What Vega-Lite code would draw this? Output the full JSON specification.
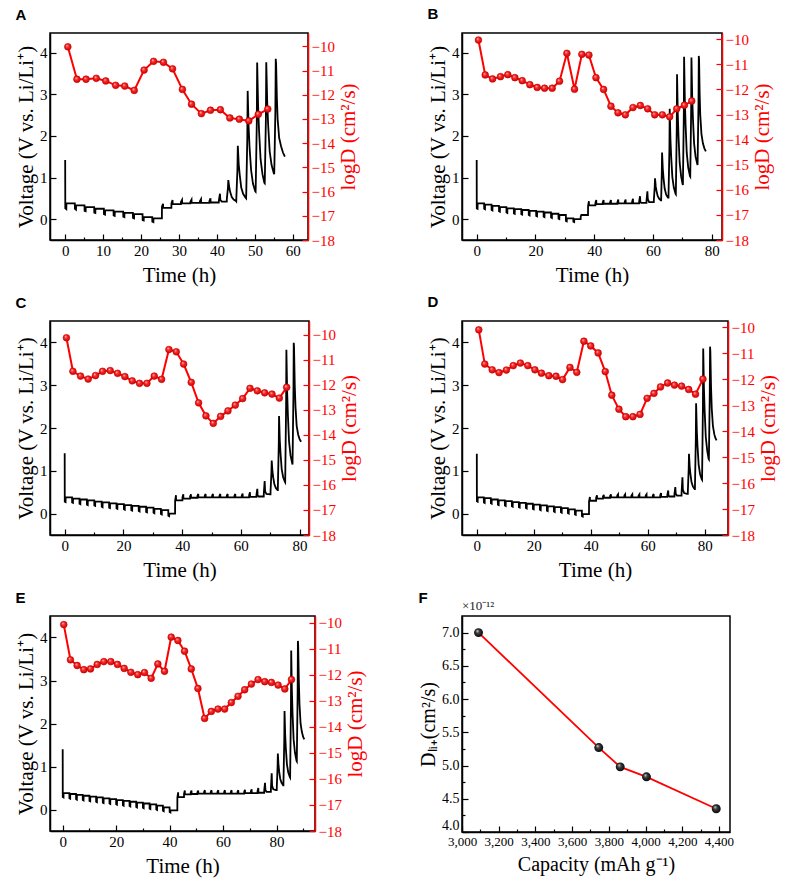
{
"$schema":"https://vega.github.io/schema/vega-lite/v6.json",
"background":"white",
"padding":{"left":14,"top":6,"right":5,"bottom":2},
"config":{
 "view":{"stroke":"black","strokeWidth":1.5},
 "axis":{"grid":false,"labelFont":"Liberation Serif","titleFont":"Liberation Serif","labelFontSize":15,"titleFontSize":21,"titleFontWeight":"normal","labelColor":"black","titleColor":"black","domainColor":"black","domainWidth":1.5,"tickColor":"black","tickWidth":1.2,"labelPadding":9,"titlePadding":3,"labelOverlap":false,"labelFlush":false},
 "title":{"font":"Liberation Sans","fontSize":15,"fontWeight":"bold","anchor":"start","frame":"bounds","offset":10,"color":"black"}
},
"datasets":{
"vA":[{"t":0,"v":1.42},{"t":0.03,"v":0.26},{"t":0.3,"v":0.24},{"t":0.33,"v":0.38},
{"t":2.54,"v":0.38},{"t":2.57,"v":0.25},{"t":2.85,"v":0.23},{"t":2.88,"v":0.33},
{"t":5.09,"v":0.33},{"t":5.12,"v":0.2},{"t":5.4,"v":0.19},{"t":5.43,"v":0.29},
{"t":7.64,"v":0.29},{"t":7.67,"v":0.16},{"t":7.95,"v":0.15},{"t":7.98,"v":0.25},
{"t":10.19,"v":0.25},{"t":10.22,"v":0.12},{"t":10.5,"v":0.11},{"t":10.53,"v":0.21},
{"t":12.74,"v":0.21},{"t":12.77,"v":0.09},{"t":13.05,"v":0.08},{"t":13.08,"v":0.18},
{"t":15.29,"v":0.18},{"t":15.32,"v":0.06},{"t":15.6,"v":0.05},{"t":15.63,"v":0.15},
{"t":17.84,"v":0.15},{"t":17.87,"v":0.03},{"t":18.15,"v":0.02},{"t":18.18,"v":0.12},
{"t":20.39,"v":0.12},{"t":20.42,"v":-0.02},{"t":20.7,"v":-0.03},{"t":20.73,"v":0.05},
{"t":22.94,"v":0.05},{"t":22.97,"v":-0.06},{"t":23.25,"v":-0.07},{"t":23.28,"v":0.02},
{"t":25.49,"v":0.02},{"t":25.51,"v":0.3},{"t":25.8,"v":0.37},{"t":25.83,"v":0.27},
{"t":27.99,"v":0.27},{"t":28.01,"v":0.38},{"t":28.3,"v":0.46},{"t":28.33,"v":0.36},
{"t":30.49,"v":0.36},{"t":30.51,"v":0.41},{"t":30.8,"v":0.46},{"t":30.83,"v":0.38},
{"t":32.99,"v":0.38},{"t":33.01,"v":0.42},{"t":33.3,"v":0.47},{"t":33.33,"v":0.39},
{"t":35.49,"v":0.39},{"t":35.51,"v":0.43},{"t":35.8,"v":0.48},{"t":35.83,"v":0.39},
{"t":37.99,"v":0.39},{"t":38.01,"v":0.43},{"t":38.3,"v":0.5},{"t":38.33,"v":0.4},
{"t":40.49,"v":0.4},{"t":40.51,"v":0.45},{"t":40.8,"v":0.61},{"t":40.9,"v":0.46},{"t":41.3,"v":0.42},
{"t":42.59,"v":0.42},{"t":42.62,"v":0.5},{"t":42.9,"v":0.75},{"t":43.0,"v":0.94},{"t":43.25,"v":0.76},{"t":43.5,"v":0.65},{"t":43.9,"v":0.53},{"t":44.4,"v":0.47},{"t":45.0,"v":0.44},
{"t":45.09,"v":0.43},{"t":45.12,"v":0.53},{"t":45.4,"v":1.2},{"t":45.5,"v":1.76},{"t":45.75,"v":1.31},{"t":46.0,"v":1.07},{"t":46.4,"v":0.76},{"t":46.9,"v":0.61},{"t":47.5,"v":0.52},
{"t":47.69,"v":0.5},{"t":47.72,"v":0.6},{"t":48.0,"v":1.95},{"t":48.1,"v":3.08},{"t":48.35,"v":2.21},{"t":48.6,"v":1.72},{"t":49.0,"v":1.18},{"t":49.5,"v":0.85},{"t":50.1,"v":0.67},
{"t":50.19,"v":0.66},{"t":50.22,"v":0.76},{"t":50.5,"v":2.3},{"t":50.6,"v":3.76},{"t":50.85,"v":2.72},{"t":51.1,"v":2.12},{"t":51.5,"v":1.44},{"t":52.0,"v":1.08},{"t":52.5,"v":0.87},
{"t":52.59,"v":0.86},{"t":52.62,"v":0.96},{"t":52.9,"v":2.4},{"t":53.0,"v":3.77},{"t":53.25,"v":2.81},{"t":53.5,"v":2.26},{"t":53.9,"v":1.63},{"t":54.4,"v":1.3},{"t":55.0,"v":1.1},
{"t":55.09,"v":1.08},{"t":55.12,"v":1.18},{"t":55.4,"v":2.6},{"t":55.5,"v":3.85},{"t":55.6,"v":3.72},{"t":55.8,"v":2.9},{"t":56.0,"v":2.4},{"t":56.4,"v":1.95},{"t":56.9,"v":1.75},{"t":57.4,"v":1.6},{"t":57.9,"v":1.5}],
"dA":[{"t":0.7,"d":-10.02},{"t":3.1,"d":-11.36},{"t":5.5,"d":-11.36},{"t":8.2,"d":-11.32},{"t":10.7,"d":-11.43},{"t":13.3,"d":-11.61},{"t":15.7,"d":-11.64},{"t":18.2,"d":-11.82},{"t":20.8,"d":-10.98},{"t":23.3,"d":-10.62},{"t":25.9,"d":-10.66},{"t":28.3,"d":-10.93},{"t":30.9,"d":-11.78},{"t":33.3,"d":-12.39},{"t":35.9,"d":-12.78},{"t":38.3,"d":-12.64},{"t":40.9,"d":-12.62},{"t":43.4,"d":-12.96},{"t":45.9,"d":-13.01},{"t":48.4,"d":-13.08},{"t":50.9,"d":-12.81},{"t":53.4,"d":-12.59}],
"vB":[{"t":0,"v":1.42},{"t":0.03,"v":0.26},{"t":0.3,"v":0.25},{"t":0.33,"v":0.38},
{"t":2.52,"v":0.38},{"t":2.55,"v":0.25},{"t":2.83,"v":0.24},{"t":2.86,"v":0.35},
{"t":5.05,"v":0.35},{"t":5.08,"v":0.22},{"t":5.36,"v":0.21},{"t":5.39,"v":0.32},
{"t":7.58,"v":0.32},{"t":7.61,"v":0.19},{"t":7.89,"v":0.18},{"t":7.92,"v":0.29},
{"t":10.11,"v":0.29},{"t":10.14,"v":0.16},{"t":10.42,"v":0.15},{"t":10.45,"v":0.26},
{"t":12.64,"v":0.26},{"t":12.67,"v":0.14},{"t":12.95,"v":0.13},{"t":12.98,"v":0.24},
{"t":15.17,"v":0.24},{"t":15.2,"v":0.12},{"t":15.48,"v":0.11},{"t":15.51,"v":0.22},
{"t":17.7,"v":0.22},{"t":17.73,"v":0.1},{"t":18.01,"v":0.09},{"t":18.04,"v":0.2},
{"t":20.23,"v":0.2},{"t":20.26,"v":0.08},{"t":20.54,"v":0.07},{"t":20.57,"v":0.18},
{"t":22.76,"v":0.18},{"t":22.79,"v":0.06},{"t":23.07,"v":0.05},{"t":23.1,"v":0.16},
{"t":25.29,"v":0.16},{"t":25.32,"v":0.04},{"t":25.6,"v":0.03},{"t":25.63,"v":0.13},
{"t":27.82,"v":0.13},{"t":27.85,"v":0.01},{"t":28.13,"v":0.0},{"t":28.16,"v":0.1},
{"t":30.35,"v":0.1},{"t":30.38,"v":-0.04},{"t":30.66,"v":-0.05},{"t":30.69,"v":0.02},
{"t":32.88,"v":0.02},{"t":32.91,"v":-0.06},{"t":33.19,"v":-0.07},{"t":33.22,"v":0.0},
{"t":35.39,"v":0.0},{"t":35.41,"v":0.06},{"t":35.7,"v":0.12},{"t":35.73,"v":0.1},
{"t":37.89,"v":0.1},{"t":37.91,"v":0.32},{"t":38.2,"v":0.43},{"t":38.23,"v":0.33},
{"t":40.39,"v":0.33},{"t":40.41,"v":0.39},{"t":40.7,"v":0.46},{"t":40.73,"v":0.36},
{"t":42.89,"v":0.36},{"t":42.91,"v":0.4},{"t":43.2,"v":0.46},{"t":43.23,"v":0.37},
{"t":45.39,"v":0.37},{"t":45.41,"v":0.41},{"t":45.7,"v":0.46},{"t":45.73,"v":0.37},
{"t":47.89,"v":0.37},{"t":47.91,"v":0.41},{"t":48.2,"v":0.47},{"t":48.23,"v":0.38},
{"t":50.39,"v":0.38},{"t":50.41,"v":0.42},{"t":50.7,"v":0.47},{"t":50.73,"v":0.38},
{"t":52.89,"v":0.38},{"t":52.91,"v":0.42},{"t":53.2,"v":0.49},{"t":53.23,"v":0.38},
{"t":55.29,"v":0.38},{"t":55.31,"v":0.43},{"t":55.6,"v":0.55},{"t":55.7,"v":0.42},{"t":56.0,"v":0.39},
{"t":57.79,"v":0.39},{"t":57.81,"v":0.45},{"t":58.1,"v":0.67},{"t":58.25,"v":0.48},{"t":58.7,"v":0.41},
{"t":60.29,"v":0.41},{"t":60.31,"v":0.47},{"t":60.6,"v":0.78},{"t":60.7,"v":0.98},{"t":60.95,"v":0.78},{"t":61.2,"v":0.68},{"t":61.6,"v":0.56},{"t":62.1,"v":0.49},{"t":62.7,"v":0.45},
{"t":62.79,"v":0.45},{"t":62.81,"v":0.53},{"t":63.0,"v":1.1},{"t":63.1,"v":1.6},{"t":63.35,"v":1.21},{"t":63.6,"v":0.98},{"t":64.0,"v":0.73},{"t":64.5,"v":0.59},{"t":65.1,"v":0.52},
{"t":65.29,"v":0.52},{"t":65.31,"v":0.62},{"t":65.6,"v":1.7},{"t":65.7,"v":2.65},{"t":65.95,"v":1.92},{"t":66.2,"v":1.5},{"t":66.6,"v":1.01},{"t":67.1,"v":0.76},{"t":67.7,"v":0.61},
{"t":67.79,"v":0.6},{"t":67.81,"v":0.7},{"t":68.1,"v":2.2},{"t":68.2,"v":3.48},{"t":68.45,"v":2.52},{"t":68.7,"v":1.98},{"t":69.1,"v":1.35},{"t":69.6,"v":1.02},{"t":70.1,"v":0.84},
{"t":70.19,"v":0.82},{"t":70.21,"v":0.92},{"t":70.5,"v":2.5},{"t":70.6,"v":3.9},{"t":70.85,"v":2.86},{"t":71.1,"v":2.27},{"t":71.5,"v":1.59},{"t":72.0,"v":1.24},{"t":72.6,"v":1.03},
{"t":72.69,"v":1.02},{"t":72.71,"v":1.12},{"t":73.0,"v":2.6},{"t":73.1,"v":3.88},{"t":73.35,"v":2.96},{"t":73.6,"v":2.43},{"t":74.0,"v":1.82},{"t":74.5,"v":1.5},{"t":75.1,"v":1.32},
{"t":75.19,"v":1.3},{"t":75.21,"v":1.4},{"t":75.5,"v":2.8},{"t":75.6,"v":3.92},{"t":75.7,"v":3.84},{"t":75.9,"v":3.0},{"t":76.1,"v":2.5},{"t":76.5,"v":2.05},{"t":77.0,"v":1.82},{"t":77.5,"v":1.7},{"t":78.0,"v":1.63}],
"dB":[{"t":0.6,"d":-10.03},{"t":2.9,"d":-11.42},{"t":5.4,"d":-11.58},{"t":8.1,"d":-11.49},{"t":10.6,"d":-11.41},{"t":13.0,"d":-11.53},{"t":15.5,"d":-11.65},{"t":18.1,"d":-11.81},{"t":20.6,"d":-11.92},{"t":23.1,"d":-11.95},{"t":25.7,"d":-11.95},{"t":28.2,"d":-11.67},{"t":30.7,"d":-10.56},{"t":33.3,"d":-11.99},{"t":35.8,"d":-10.6},{"t":38.2,"d":-10.63},{"t":40.6,"d":-11.53},{"t":43.2,"d":-12.0},{"t":45.7,"d":-12.67},{"t":48.1,"d":-12.93},{"t":50.6,"d":-13.01},{"t":53.2,"d":-12.72},{"t":55.7,"d":-12.64},{"t":58.2,"d":-12.77},{"t":60.6,"d":-13.01},{"t":63.2,"d":-13.01},{"t":65.7,"d":-13.09},{"t":68.1,"d":-12.77},{"t":70.7,"d":-12.63},{"t":73.2,"d":-12.46}],
"vC":[{"t":0,"v":1.41},{"t":0.03,"v":0.28},{"t":0.3,"v":0.27},{"t":0.33,"v":0.38},
{"t":2.51,"v":0.38},{"t":2.54,"v":0.26},{"t":2.82,"v":0.25},{"t":2.85,"v":0.35},
{"t":5.03,"v":0.35},{"t":5.06,"v":0.23},{"t":5.34,"v":0.22},{"t":5.37,"v":0.33},
{"t":7.55,"v":0.33},{"t":7.58,"v":0.21},{"t":7.86,"v":0.2},{"t":7.89,"v":0.31},
{"t":10.07,"v":0.31},{"t":10.1,"v":0.19},{"t":10.38,"v":0.18},{"t":10.41,"v":0.28},
{"t":12.59,"v":0.28},{"t":12.62,"v":0.16},{"t":12.9,"v":0.15},{"t":12.93,"v":0.26},
{"t":15.11,"v":0.26},{"t":15.14,"v":0.14},{"t":15.42,"v":0.13},{"t":15.45,"v":0.24},
{"t":17.63,"v":0.24},{"t":17.66,"v":0.12},{"t":17.94,"v":0.11},{"t":17.97,"v":0.22},
{"t":20.15,"v":0.22},{"t":20.18,"v":0.1},{"t":20.46,"v":0.09},{"t":20.49,"v":0.2},
{"t":22.67,"v":0.2},{"t":22.7,"v":0.08},{"t":22.98,"v":0.07},{"t":23.01,"v":0.18},
{"t":25.19,"v":0.18},{"t":25.22,"v":0.06},{"t":25.5,"v":0.05},{"t":25.53,"v":0.16},
{"t":27.71,"v":0.16},{"t":27.74,"v":0.04},{"t":28.02,"v":0.03},{"t":28.05,"v":0.14},
{"t":30.23,"v":0.14},{"t":30.26,"v":0.02},{"t":30.54,"v":0.01},{"t":30.57,"v":0.11},
{"t":32.75,"v":0.11},{"t":32.78,"v":-0.01},{"t":33.06,"v":-0.02},{"t":33.09,"v":0.08},
{"t":35.27,"v":0.08},{"t":35.3,"v":-0.05},{"t":35.58,"v":-0.06},{"t":35.61,"v":0.0},
{"t":37.59,"v":0.0},{"t":37.61,"v":0.3},{"t":37.9,"v":0.43},{"t":37.93,"v":0.31},
{"t":40.09,"v":0.31},{"t":40.11,"v":0.38},{"t":40.4,"v":0.45},{"t":40.43,"v":0.35},
{"t":42.69,"v":0.35},{"t":42.71,"v":0.4},{"t":43.0,"v":0.45},{"t":43.03,"v":0.37},
{"t":45.19,"v":0.37},{"t":45.21,"v":0.41},{"t":45.5,"v":0.46},{"t":45.53,"v":0.38},
{"t":47.69,"v":0.38},{"t":47.71,"v":0.42},{"t":48.0,"v":0.46},{"t":48.03,"v":0.38},
{"t":50.19,"v":0.38},{"t":50.21,"v":0.42},{"t":50.5,"v":0.46},{"t":50.53,"v":0.38},
{"t":52.69,"v":0.38},{"t":52.71,"v":0.42},{"t":53.0,"v":0.46},{"t":53.03,"v":0.38},
{"t":55.19,"v":0.38},{"t":55.21,"v":0.42},{"t":55.5,"v":0.46},{"t":55.53,"v":0.38},
{"t":57.79,"v":0.38},{"t":57.81,"v":0.42},{"t":58.1,"v":0.46},{"t":58.13,"v":0.38},
{"t":60.29,"v":0.38},{"t":60.31,"v":0.42},{"t":60.6,"v":0.47},{"t":60.63,"v":0.38},
{"t":62.79,"v":0.38},{"t":62.81,"v":0.43},{"t":63.1,"v":0.5},{"t":63.13,"v":0.39},
{"t":65.29,"v":0.39},{"t":65.31,"v":0.44},{"t":65.6,"v":0.58},{"t":65.7,"v":0.43},{"t":66.0,"v":0.4},
{"t":67.79,"v":0.4},{"t":67.81,"v":0.47},{"t":68.1,"v":0.76},{"t":68.25,"v":0.52},{"t":68.7,"v":0.46},{"t":70.0,"v":0.45},
{"t":70.09,"v":0.45},{"t":70.11,"v":0.53},{"t":70.4,"v":0.95},{"t":70.5,"v":1.24},{"t":70.75,"v":0.99},{"t":71.0,"v":0.85},{"t":71.4,"v":0.69},{"t":71.9,"v":0.6},{"t":72.5,"v":0.55},
{"t":72.59,"v":0.55},{"t":72.61,"v":0.65},{"t":72.9,"v":1.6},{"t":73.0,"v":2.28},{"t":73.25,"v":1.72},{"t":73.5,"v":1.41},{"t":73.9,"v":1.04},{"t":74.4,"v":0.85},{"t":75.0,"v":0.74},
{"t":75.09,"v":0.73},{"t":75.11,"v":0.83},{"t":75.4,"v":2.5},{"t":75.5,"v":3.83},{"t":75.75,"v":2.87},{"t":76.0,"v":2.32},{"t":76.4,"v":1.69},{"t":76.9,"v":1.36},{"t":77.5,"v":1.17},
{"t":77.59,"v":1.15},{"t":77.61,"v":1.25},{"t":77.9,"v":2.8},{"t":78.0,"v":3.99},{"t":78.1,"v":3.9},{"t":78.35,"v":3.0},{"t":78.6,"v":2.5},{"t":79.0,"v":2.05},{"t":79.5,"v":1.85},{"t":80.0,"v":1.74},{"t":80.5,"v":1.68}],
"dC":[{"t":0.6,"d":-10.12},{"t":2.8,"d":-11.46},{"t":5.4,"d":-11.65},{"t":8.0,"d":-11.77},{"t":10.5,"d":-11.63},{"t":12.9,"d":-11.46},{"t":15.5,"d":-11.43},{"t":18.0,"d":-11.54},{"t":20.5,"d":-11.67},{"t":23.0,"d":-11.84},{"t":25.5,"d":-11.94},{"t":28.0,"d":-11.94},{"t":30.5,"d":-11.65},{"t":33.0,"d":-11.78},{"t":35.5,"d":-10.59},{"t":38.0,"d":-10.68},{"t":40.5,"d":-11.17},{"t":43.1,"d":-11.9},{"t":45.6,"d":-12.72},{"t":48.1,"d":-13.24},{"t":50.6,"d":-13.54},{"t":53.1,"d":-13.26},{"t":55.6,"d":-13.04},{"t":58.1,"d":-12.81},{"t":60.6,"d":-12.55},{"t":63.1,"d":-12.14},{"t":65.6,"d":-12.24},{"t":68.1,"d":-12.32},{"t":70.6,"d":-12.37},{"t":73.1,"d":-12.53},{"t":75.6,"d":-12.1}],
"vD":[{"t":0,"v":1.4},{"t":0.03,"v":0.29},{"t":0.3,"v":0.28},{"t":0.33,"v":0.38},
{"t":2.45,"v":0.38},{"t":2.48,"v":0.26},{"t":2.76,"v":0.25},{"t":2.79,"v":0.36},
{"t":4.91,"v":0.36},{"t":4.94,"v":0.24},{"t":5.22,"v":0.23},{"t":5.25,"v":0.33},
{"t":7.37,"v":0.33},{"t":7.4,"v":0.21},{"t":7.68,"v":0.2},{"t":7.71,"v":0.31},
{"t":9.83,"v":0.31},{"t":9.86,"v":0.19},{"t":10.14,"v":0.18},{"t":10.17,"v":0.29},
{"t":12.29,"v":0.29},{"t":12.32,"v":0.17},{"t":12.6,"v":0.16},{"t":12.63,"v":0.27},
{"t":14.75,"v":0.27},{"t":14.78,"v":0.15},{"t":15.06,"v":0.14},{"t":15.09,"v":0.25},
{"t":17.21,"v":0.25},{"t":17.24,"v":0.13},{"t":17.52,"v":0.12},{"t":17.55,"v":0.23},
{"t":19.67,"v":0.23},{"t":19.7,"v":0.11},{"t":19.98,"v":0.1},{"t":20.01,"v":0.21},
{"t":22.13,"v":0.21},{"t":22.16,"v":0.09},{"t":22.44,"v":0.08},{"t":22.47,"v":0.19},
{"t":24.59,"v":0.19},{"t":24.62,"v":0.07},{"t":24.9,"v":0.06},{"t":24.93,"v":0.17},
{"t":27.05,"v":0.17},{"t":27.08,"v":0.05},{"t":27.36,"v":0.04},{"t":27.39,"v":0.15},
{"t":29.51,"v":0.15},{"t":29.54,"v":0.03},{"t":29.82,"v":0.02},{"t":29.85,"v":0.13},
{"t":31.97,"v":0.13},{"t":32.0,"v":0.01},{"t":32.28,"v":0.0},{"t":32.31,"v":0.1},
{"t":34.43,"v":0.1},{"t":34.46,"v":-0.02},{"t":34.74,"v":-0.03},{"t":34.77,"v":0.07},
{"t":36.89,"v":0.07},{"t":36.92,"v":-0.06},{"t":37.2,"v":-0.07},{"t":37.23,"v":-0.01},
{"t":39.39,"v":-0.01},{"t":39.41,"v":0.28},{"t":39.7,"v":0.39},{"t":39.73,"v":0.3},
{"t":41.89,"v":0.3},{"t":41.91,"v":0.37},{"t":42.2,"v":0.43},{"t":42.23,"v":0.35},
{"t":44.29,"v":0.35},{"t":44.31,"v":0.4},{"t":44.6,"v":0.44},{"t":44.63,"v":0.37},
{"t":46.79,"v":0.37},{"t":46.81,"v":0.41},{"t":47.1,"v":0.45},{"t":47.13,"v":0.38},
{"t":49.29,"v":0.38},{"t":49.31,"v":0.42},{"t":49.6,"v":0.45},{"t":49.63,"v":0.38},
{"t":51.79,"v":0.38},{"t":51.81,"v":0.42},{"t":52.1,"v":0.45},{"t":52.13,"v":0.38},
{"t":54.29,"v":0.38},{"t":54.31,"v":0.42},{"t":54.6,"v":0.45},{"t":54.63,"v":0.38},
{"t":56.79,"v":0.38},{"t":56.81,"v":0.42},{"t":57.1,"v":0.45},{"t":57.13,"v":0.38},
{"t":59.29,"v":0.38},{"t":59.31,"v":0.42},{"t":59.6,"v":0.45},{"t":59.63,"v":0.38},
{"t":61.79,"v":0.38},{"t":61.81,"v":0.42},{"t":62.1,"v":0.46},{"t":62.13,"v":0.38},
{"t":64.39,"v":0.38},{"t":64.41,"v":0.43},{"t":64.7,"v":0.48},{"t":64.73,"v":0.39},
{"t":66.89,"v":0.39},{"t":66.91,"v":0.44},{"t":67.2,"v":0.54},{"t":67.3,"v":0.42},{"t":67.6,"v":0.4},
{"t":69.39,"v":0.4},{"t":69.41,"v":0.46},{"t":69.7,"v":0.62},{"t":69.85,"v":0.46},{"t":70.3,"v":0.42},
{"t":71.89,"v":0.42},{"t":71.91,"v":0.5},{"t":72.2,"v":0.85},{"t":72.35,"v":0.56},{"t":72.8,"v":0.48},{"t":73.8,"v":0.46},
{"t":74.09,"v":0.46},{"t":74.11,"v":0.54},{"t":74.4,"v":1.05},{"t":74.5,"v":1.4},{"t":74.75,"v":1.1},{"t":75.0,"v":0.93},{"t":75.4,"v":0.73},{"t":75.9,"v":0.63},{"t":76.5,"v":0.57},
{"t":76.59,"v":0.57},{"t":76.61,"v":0.67},{"t":76.9,"v":1.75},{"t":77.0,"v":2.58},{"t":77.25,"v":1.94},{"t":77.5,"v":1.57},{"t":77.9,"v":1.14},{"t":78.4,"v":0.92},{"t":79.0,"v":0.8},
{"t":79.09,"v":0.79},{"t":79.11,"v":0.89},{"t":79.4,"v":2.55},{"t":79.5,"v":3.86},{"t":79.75,"v":2.93},{"t":80.0,"v":2.4},{"t":80.4,"v":1.79},{"t":80.9,"v":1.47},{"t":81.4,"v":1.28},
{"t":81.49,"v":1.27},{"t":81.51,"v":1.37},{"t":81.8,"v":2.8},{"t":81.9,"v":3.9},{"t":82.0,"v":3.8},{"t":82.25,"v":2.95},{"t":82.5,"v":2.45},{"t":82.9,"v":2.05},{"t":83.4,"v":1.85},{"t":83.8,"v":1.76},{"t":84.2,"v":1.71}],
"dD":[{"t":0.7,"d":-10.09},{"t":2.8,"d":-11.41},{"t":5.4,"d":-11.63},{"t":7.8,"d":-11.74},{"t":10.4,"d":-11.64},{"t":12.8,"d":-11.47},{"t":15.3,"d":-11.37},{"t":17.9,"d":-11.47},{"t":20.4,"d":-11.63},{"t":22.7,"d":-11.76},{"t":25.3,"d":-11.86},{"t":27.8,"d":-11.88},{"t":30.1,"d":-12.01},{"t":32.7,"d":-11.54},{"t":35.1,"d":-11.73},{"t":37.6,"d":-10.53},{"t":40.0,"d":-10.71},{"t":42.6,"d":-10.98},{"t":45.1,"d":-11.7},{"t":47.4,"d":-12.61},{"t":49.9,"d":-13.15},{"t":52.3,"d":-13.44},{"t":54.8,"d":-13.44},{"t":57.3,"d":-13.35},{"t":59.8,"d":-12.73},{"t":62.2,"d":-12.54},{"t":64.5,"d":-12.29},{"t":67.0,"d":-12.14},{"t":69.4,"d":-12.22},{"t":71.9,"d":-12.26},{"t":74.4,"d":-12.39},{"t":76.8,"d":-12.57},{"t":79.4,"d":-11.99}],
"vE":[{"t":0,"v":1.4},{"t":0.03,"v":0.29},{"t":0.3,"v":0.28},{"t":0.33,"v":0.38},
{"t":2.49,"v":0.38},{"t":2.52,"v":0.26},{"t":2.8,"v":0.25},{"t":2.83,"v":0.36},
{"t":4.99,"v":0.36},{"t":5.02,"v":0.24},{"t":5.3,"v":0.23},{"t":5.33,"v":0.34},
{"t":7.49,"v":0.34},{"t":7.52,"v":0.22},{"t":7.8,"v":0.21},{"t":7.83,"v":0.32},
{"t":9.99,"v":0.32},{"t":10.02,"v":0.2},{"t":10.3,"v":0.19},{"t":10.33,"v":0.3},
{"t":12.49,"v":0.3},{"t":12.52,"v":0.18},{"t":12.8,"v":0.17},{"t":12.83,"v":0.28},
{"t":14.99,"v":0.28},{"t":15.02,"v":0.16},{"t":15.3,"v":0.15},{"t":15.33,"v":0.26},
{"t":17.49,"v":0.26},{"t":17.52,"v":0.14},{"t":17.8,"v":0.13},{"t":17.83,"v":0.24},
{"t":19.99,"v":0.24},{"t":20.02,"v":0.12},{"t":20.3,"v":0.11},{"t":20.33,"v":0.22},
{"t":22.49,"v":0.22},{"t":22.52,"v":0.1},{"t":22.8,"v":0.09},{"t":22.83,"v":0.2},
{"t":24.99,"v":0.2},{"t":25.02,"v":0.08},{"t":25.3,"v":0.07},{"t":25.33,"v":0.18},
{"t":27.49,"v":0.18},{"t":27.52,"v":0.06},{"t":27.8,"v":0.05},{"t":27.83,"v":0.16},
{"t":29.99,"v":0.16},{"t":30.02,"v":0.04},{"t":30.3,"v":0.03},{"t":30.33,"v":0.14},
{"t":32.49,"v":0.14},{"t":32.52,"v":0.02},{"t":32.8,"v":0.01},{"t":32.83,"v":0.12},
{"t":34.99,"v":0.12},{"t":35.02,"v":0.0},{"t":35.3,"v":-0.01},{"t":35.33,"v":0.09},
{"t":37.49,"v":0.09},{"t":37.52,"v":-0.03},{"t":37.8,"v":-0.04},{"t":37.83,"v":0.05},
{"t":39.99,"v":0.05},{"t":40.02,"v":-0.06},{"t":40.3,"v":-0.07},{"t":40.33,"v":-0.02},
{"t":42.89,"v":-0.02},{"t":42.91,"v":0.28},{"t":43.2,"v":0.4},{"t":43.23,"v":0.29},
{"t":45.39,"v":0.29},{"t":45.41,"v":0.37},{"t":45.7,"v":0.44},{"t":45.73,"v":0.35},
{"t":47.89,"v":0.35},{"t":47.91,"v":0.4},{"t":48.2,"v":0.44},{"t":48.23,"v":0.36},
{"t":50.39,"v":0.36},{"t":50.41,"v":0.4},{"t":50.7,"v":0.44},{"t":50.73,"v":0.37},
{"t":52.89,"v":0.37},{"t":52.91,"v":0.41},{"t":53.2,"v":0.45},{"t":53.23,"v":0.37},
{"t":55.39,"v":0.37},{"t":55.41,"v":0.41},{"t":55.7,"v":0.45},{"t":55.73,"v":0.37},
{"t":57.89,"v":0.37},{"t":57.91,"v":0.41},{"t":58.2,"v":0.45},{"t":58.23,"v":0.37},
{"t":60.39,"v":0.37},{"t":60.41,"v":0.41},{"t":60.7,"v":0.45},{"t":60.73,"v":0.37},
{"t":62.89,"v":0.37},{"t":62.91,"v":0.41},{"t":63.2,"v":0.45},{"t":63.23,"v":0.37},
{"t":65.39,"v":0.37},{"t":65.41,"v":0.41},{"t":65.7,"v":0.45},{"t":65.73,"v":0.37},
{"t":67.89,"v":0.37},{"t":67.91,"v":0.41},{"t":68.2,"v":0.46},{"t":68.23,"v":0.38},
{"t":70.39,"v":0.38},{"t":70.41,"v":0.42},{"t":70.7,"v":0.47},{"t":70.73,"v":0.38},
{"t":72.89,"v":0.38},{"t":72.91,"v":0.43},{"t":73.2,"v":0.5},{"t":73.23,"v":0.39},
{"t":75.39,"v":0.39},{"t":75.41,"v":0.45},{"t":75.7,"v":0.62},{"t":75.85,"v":0.45},{"t":76.3,"v":0.41},
{"t":77.89,"v":0.41},{"t":77.91,"v":0.48},{"t":78.2,"v":0.84},{"t":78.35,"v":0.55},{"t":78.8,"v":0.47},{"t":79.8,"v":0.45},
{"t":80.09,"v":0.45},{"t":80.11,"v":0.53},{"t":80.4,"v":1.0},{"t":80.5,"v":1.3},{"t":80.75,"v":1.03},{"t":81.0,"v":0.88},{"t":81.4,"v":0.71},{"t":81.9,"v":0.62},{"t":82.5,"v":0.56},
{"t":82.59,"v":0.56},{"t":82.61,"v":0.66},{"t":82.9,"v":1.6},{"t":83.0,"v":2.29},{"t":83.25,"v":1.73},{"t":83.5,"v":1.42},{"t":83.9,"v":1.05},{"t":84.4,"v":0.86},{"t":85.0,"v":0.75},
{"t":85.09,"v":0.74},{"t":85.11,"v":0.84},{"t":85.4,"v":2.4},{"t":85.5,"v":3.7},{"t":85.75,"v":2.77},{"t":86.0,"v":2.24},{"t":86.4,"v":1.63},{"t":86.9,"v":1.32},{"t":87.5,"v":1.13},
{"t":87.59,"v":1.12},{"t":87.61,"v":1.22},{"t":87.9,"v":2.7},{"t":88.0,"v":3.92},{"t":88.1,"v":3.84},{"t":88.35,"v":3.0},{"t":88.6,"v":2.45},{"t":89.0,"v":2.0},{"t":89.5,"v":1.8},{"t":90.0,"v":1.68},{"t":90.4,"v":1.63}],
"dE":[{"t":0.4,"d":-10.08},{"t":2.9,"d":-11.43},{"t":5.4,"d":-11.65},{"t":7.9,"d":-11.81},{"t":10.4,"d":-11.78},{"t":12.9,"d":-11.61},{"t":15.4,"d":-11.5},{"t":18.0,"d":-11.5},{"t":20.5,"d":-11.61},{"t":23.0,"d":-11.76},{"t":25.5,"d":-11.91},{"t":28.1,"d":-12.0},{"t":30.6,"d":-11.92},{"t":33.1,"d":-12.14},{"t":35.6,"d":-11.59},{"t":38.1,"d":-11.87},{"t":40.6,"d":-10.56},{"t":43.1,"d":-10.69},{"t":45.6,"d":-11.1},{"t":48.1,"d":-11.78},{"t":50.6,"d":-12.53},{"t":53.1,"d":-13.68},{"t":55.6,"d":-13.41},{"t":58.1,"d":-13.32},{"t":60.6,"d":-13.32},{"t":63.1,"d":-13.07},{"t":65.6,"d":-12.83},{"t":68.1,"d":-12.58},{"t":70.6,"d":-12.36},{"t":73.1,"d":-12.19},{"t":75.6,"d":-12.27},{"t":78.1,"d":-12.3},{"t":80.6,"d":-12.4},{"t":83.1,"d":-12.55},{"t":85.6,"d":-12.19}],
"f":[{"cap":3090,"dli":7.0},{"cap":3745,"dli":5.27},{"cap":3862,"dli":4.98},{"cap":4005,"dli":4.83},{"cap":4385,"dli":4.35}],
"fnote":[{"cap":3000,"dli":7.25,"label":"×10⁻¹²"}]
},
"columns":2,
"spacing":{"row":8,"column":50},
"concat":[
{"title":{"text":"A"},"width":258,"height":207,
 "encoding":{"x":{"field":"t","type":"quantitative","scale":{"domain":[-4,64],"nice":false,"zero":false},"axis":{"title":"Time (h)","format":"d","values":[0,5,10,15,20,25,30,35,40,45,50,55,60],"labelExpr":"datum.value % 10 === 0 ? datum.label : ''","tickSize":{"condition":{"test":"datum.value % 10 !== 0","value":-3},"value":-6}}}},
 "layer":[
  {"data":{"name":"vA"},"mark":{"type":"line","color":"black","strokeWidth":1.8},
   "encoding":{"y":{"field":"v","type":"quantitative","scale":{"domain":[-0.5,4.47],"nice":false,"zero":false},"axis":{"title":"Voltage (V vs. Li/Li⁺)","format":"d","values":[0,0.5,1,1.5,2,2.5,3,3.5,4],"labelExpr":"datum.value % 1 === 0 ? datum.label : ''","tickSize":{"condition":{"test":"datum.value % 1 !== 0","value":-3},"value":-6}}}}},
  {"data":{"name":"dA"},
   "encoding":{"y":{"field":"d","type":"quantitative","scale":{"domain":[-18,-9.45],"nice":false,"zero":false},"axis":{"orient":"right","title":"logD (cm²/s)","titleAngle":270,"titleBaseline":"top","titleColor":"#ff0000","labelColor":"#ff0000","domainColor":"#ff0000","tickColor":"#ff0000","format":"d","values":[-18,-17.5,-17,-16.5,-16,-15.5,-15,-14.5,-14,-13.5,-13,-12.5,-12,-11.5,-11,-10.5,-10],"labelExpr":"datum.value % 1 === 0 ? datum.label : ''","tickSize":{"condition":{"test":"datum.value % 1 !== 0","value":-3},"value":-6}}}},
   "layer":[{"mark":{"type":"line","color":"#ff0000","strokeWidth":2}},
    {"mark":{"type":"circle","size":46,"opacity":1,"stroke":"#d00000","strokeWidth":0.6,"fill":{"gradient":"radial","x1":0.35,"y1":0.3,"r1":0,"x2":0.5,"y2":0.5,"r2":0.55,"stops":[{"offset":0,"color":"#ffe6e6"},{"offset":0.35,"color":"#ff3030"},{"offset":1,"color":"#c00000"}]}}}]}
 ],
 "resolve":{"scale":{"y":"independent"}}},
{"title":{"text":"B"},"width":260,"height":207,
 "encoding":{"x":{"field":"t","type":"quantitative","scale":{"domain":[-5,83.5],"nice":false,"zero":false},"axis":{"title":"Time (h)","format":"d","values":[0,10,20,30,40,50,60,70,80],"labelExpr":"datum.value % 20 === 0 ? datum.label : ''","tickSize":{"condition":{"test":"datum.value % 20 !== 0","value":-3},"value":-6}}}},
 "layer":[
  {"data":{"name":"vB"},"mark":{"type":"line","color":"black","strokeWidth":1.8},
   "encoding":{"y":{"field":"v","type":"quantitative","scale":{"domain":[-0.5,4.47],"nice":false,"zero":false},"axis":{"title":"Voltage (V vs. Li/Li⁺)","format":"d","values":[0,0.5,1,1.5,2,2.5,3,3.5,4],"labelExpr":"datum.value % 1 === 0 ? datum.label : ''","tickSize":{"condition":{"test":"datum.value % 1 !== 0","value":-3},"value":-6}}}}},
  {"data":{"name":"dB"},
   "encoding":{"y":{"field":"d","type":"quantitative","scale":{"domain":[-18,-9.75],"nice":false,"zero":false},"axis":{"orient":"right","title":"logD (cm²/s)","titleAngle":270,"titleBaseline":"top","titleColor":"#ff0000","labelColor":"#ff0000","domainColor":"#ff0000","tickColor":"#ff0000","format":"d","values":[-18,-17.5,-17,-16.5,-16,-15.5,-15,-14.5,-14,-13.5,-13,-12.5,-12,-11.5,-11,-10.5,-10],"labelExpr":"datum.value % 1 === 0 ? datum.label : ''","tickSize":{"condition":{"test":"datum.value % 1 !== 0","value":-3},"value":-6}}}},
   "layer":[{"mark":{"type":"line","color":"#ff0000","strokeWidth":2}},
    {"mark":{"type":"circle","size":46,"opacity":1,"stroke":"#d00000","strokeWidth":0.6,"fill":{"gradient":"radial","x1":0.35,"y1":0.3,"r1":0,"x2":0.5,"y2":0.5,"r2":0.55,"stops":[{"offset":0,"color":"#ffe6e6"},{"offset":0.35,"color":"#ff3030"},{"offset":1,"color":"#c00000"}]}}}]}
 ],
 "resolve":{"scale":{"y":"independent"}}},
{"title":{"text":"C"},"width":259,"height":214,
 "encoding":{"x":{"field":"t","type":"quantitative","scale":{"domain":[-5,83.2],"nice":false,"zero":false},"axis":{"title":"Time (h)","format":"d","values":[0,10,20,30,40,50,60,70,80],"labelExpr":"datum.value % 20 === 0 ? datum.label : ''","tickSize":{"condition":{"test":"datum.value % 20 !== 0","value":-3},"value":-6}}}},
 "layer":[
  {"data":{"name":"vC"},"mark":{"type":"line","color":"black","strokeWidth":1.8},
   "encoding":{"y":{"field":"v","type":"quantitative","scale":{"domain":[-0.5,4.5],"nice":false,"zero":false},"axis":{"title":"Voltage (V vs. Li/Li⁺)","format":"d","values":[0,0.5,1,1.5,2,2.5,3,3.5,4],"labelExpr":"datum.value % 1 === 0 ? datum.label : ''","tickSize":{"condition":{"test":"datum.value % 1 !== 0","value":-3},"value":-6}}}}},
  {"data":{"name":"dC"},
   "encoding":{"y":{"field":"d","type":"quantitative","scale":{"domain":[-18,-9.45],"nice":false,"zero":false},"axis":{"orient":"right","title":"logD (cm²/s)","titleAngle":270,"titleBaseline":"top","titleColor":"#ff0000","labelColor":"#ff0000","domainColor":"#ff0000","tickColor":"#ff0000","format":"d","values":[-18,-17.5,-17,-16.5,-16,-15.5,-15,-14.5,-14,-13.5,-13,-12.5,-12,-11.5,-11,-10.5,-10],"labelExpr":"datum.value % 1 === 0 ? datum.label : ''","tickSize":{"condition":{"test":"datum.value % 1 !== 0","value":-3},"value":-6}}}},
   "layer":[{"mark":{"type":"line","color":"#ff0000","strokeWidth":2}},
    {"mark":{"type":"circle","size":46,"opacity":1,"stroke":"#d00000","strokeWidth":0.6,"fill":{"gradient":"radial","x1":0.35,"y1":0.3,"r1":0,"x2":0.5,"y2":0.5,"r2":0.55,"stops":[{"offset":0,"color":"#ffe6e6"},{"offset":0.35,"color":"#ff3030"},{"offset":1,"color":"#c00000"}]}}}]}
 ],
 "resolve":{"scale":{"y":"independent"}}},
{"title":{"text":"D"},"width":266,"height":214,
 "encoding":{"x":{"field":"t","type":"quantitative","scale":{"domain":[-5.2,88.2],"nice":false,"zero":false},"axis":{"title":"Time (h)","format":"d","values":[0,10,20,30,40,50,60,70,80],"labelExpr":"datum.value % 20 === 0 ? datum.label : ''","tickSize":{"condition":{"test":"datum.value % 20 !== 0","value":-3},"value":-6}}}},
 "layer":[
  {"data":{"name":"vD"},"mark":{"type":"line","color":"black","strokeWidth":1.8},
   "encoding":{"y":{"field":"v","type":"quantitative","scale":{"domain":[-0.5,4.5],"nice":false,"zero":false},"axis":{"title":"Voltage (V vs. Li/Li⁺)","format":"d","values":[0,0.5,1,1.5,2,2.5,3,3.5,4],"labelExpr":"datum.value % 1 === 0 ? datum.label : ''","tickSize":{"condition":{"test":"datum.value % 1 !== 0","value":-3},"value":-6}}}}},
  {"data":{"name":"dD"},
   "encoding":{"y":{"field":"d","type":"quantitative","scale":{"domain":[-18,-9.75],"nice":false,"zero":false},"axis":{"orient":"right","title":"logD (cm²/s)","titleAngle":270,"titleBaseline":"top","titleColor":"#ff0000","labelColor":"#ff0000","domainColor":"#ff0000","tickColor":"#ff0000","format":"d","values":[-18,-17.5,-17,-16.5,-16,-15.5,-15,-14.5,-14,-13.5,-13,-12.5,-12,-11.5,-11,-10.5,-10],"labelExpr":"datum.value % 1 === 0 ? datum.label : ''","tickSize":{"condition":{"test":"datum.value % 1 !== 0","value":-3},"value":-6}}}},
   "layer":[{"mark":{"type":"line","color":"#ff0000","strokeWidth":2}},
    {"mark":{"type":"circle","size":46,"opacity":1,"stroke":"#d00000","strokeWidth":0.6,"fill":{"gradient":"radial","x1":0.35,"y1":0.3,"r1":0,"x2":0.5,"y2":0.5,"r2":0.55,"stops":[{"offset":0,"color":"#ffe6e6"},{"offset":0.35,"color":"#ff3030"},{"offset":1,"color":"#c00000"}]}}}]}
 ],
 "resolve":{"scale":{"y":"independent"}}},
{"title":{"text":"E"},"width":265,"height":215,
 "encoding":{"x":{"field":"t","type":"quantitative","scale":{"domain":[-4.75,94.4],"nice":false,"zero":false},"axis":{"title":"Time (h)","format":"d","values":[0,10,20,30,40,50,60,70,80,90],"labelExpr":"datum.value % 20 === 0 ? datum.label : ''","tickSize":{"condition":{"test":"datum.value % 20 !== 0","value":-3},"value":-6}}}},
 "layer":[
  {"data":{"name":"vE"},"mark":{"type":"line","color":"black","strokeWidth":1.8},
   "encoding":{"y":{"field":"v","type":"quantitative","scale":{"domain":[-0.5,4.5],"nice":false,"zero":false},"axis":{"title":"Voltage (V vs. Li/Li⁺)","format":"d","values":[0,0.5,1,1.5,2,2.5,3,3.5,4],"labelExpr":"datum.value % 1 === 0 ? datum.label : ''","tickSize":{"condition":{"test":"datum.value % 1 !== 0","value":-3},"value":-6}}}}},
  {"data":{"name":"dE"},
   "encoding":{"y":{"field":"d","type":"quantitative","scale":{"domain":[-18,-9.75],"nice":false,"zero":false},"axis":{"orient":"right","title":"logD (cm²/s)","titleAngle":270,"titleBaseline":"top","titleColor":"#ff0000","labelColor":"#ff0000","domainColor":"#ff0000","tickColor":"#ff0000","format":"d","values":[-18,-17.5,-17,-16.5,-16,-15.5,-15,-14.5,-14,-13.5,-13,-12.5,-12,-11.5,-11,-10.5,-10],"labelExpr":"datum.value % 1 === 0 ? datum.label : ''","tickSize":{"condition":{"test":"datum.value % 1 !== 0","value":-3},"value":-6}}}},
   "layer":[{"mark":{"type":"line","color":"#ff0000","strokeWidth":2}},
    {"mark":{"type":"circle","size":46,"opacity":1,"stroke":"#d00000","strokeWidth":0.6,"fill":{"gradient":"radial","x1":0.35,"y1":0.3,"r1":0,"x2":0.5,"y2":0.5,"r2":0.55,"stops":[{"offset":0,"color":"#ffe6e6"},{"offset":0.35,"color":"#ff3030"},{"offset":1,"color":"#c00000"}]}}}]}
 ],
 "resolve":{"scale":{"y":"independent"}}},
{"title":{"text":"F","offset":-6},"width":268,"height":216,
 "encoding":{"x":{"field":"cap","type":"quantitative","scale":{"domain":[3000,4460],"nice":false,"zero":false},"axis":{"title":"Capacity (mAh g⁻¹)","titleFontSize":20,"labelFontSize":13,"values":[3000,3100,3200,3300,3400,3500,3600,3700,3800,3900,4000,4100,4200,4300,4400],"labelExpr":"datum.value % 200 === 0 ? format(datum.value, ',') : ''","tickSize":{"condition":{"test":"datum.value % 200 !== 0","value":-3},"value":-6}}},
   "y":{"field":"dli","type":"quantitative","scale":{"domain":[4,7.25],"nice":false,"zero":false},"axis":{"title":"Dₗᵢ₊(cm²/s)","titleFontSize":20,"labelFontSize":14,"labelFlush":true,"labelFlushOffset":0,"values":[4,4.25,4.5,4.75,5,5.25,5.5,5.75,6,6.25,6.5,6.75,7],"labelExpr":"datum.value % 0.5 === 0 ? format(datum.value, '.1f') : ''","tickSize":{"condition":{"test":"datum.value % 0.5 !== 0","value":-3},"value":-6}}}},
 "layer":[
  {"data":{"name":"f"},"mark":{"type":"line","color":"#ff0000","strokeWidth":1.8}},
  {"data":{"name":"f"},"mark":{"type":"circle","size":80,"opacity":1,"fill":{"gradient":"radial","x1":0.35,"y1":0.3,"r1":0,"x2":0.5,"y2":0.5,"r2":0.55,"stops":[{"offset":0,"color":"#e8e8e8"},{"offset":0.35,"color":"#404040"},{"offset":1,"color":"#000000"}]}}},
  {"data":{"name":"fnote"},"mark":{"type":"text","align":"left","baseline":"bottom","dy":-3,"font":"Liberation Serif","fontSize":13,"color":"#222222"},
   "encoding":{"text":{"field":"label","type":"nominal"}}}
 ]}
]
}
